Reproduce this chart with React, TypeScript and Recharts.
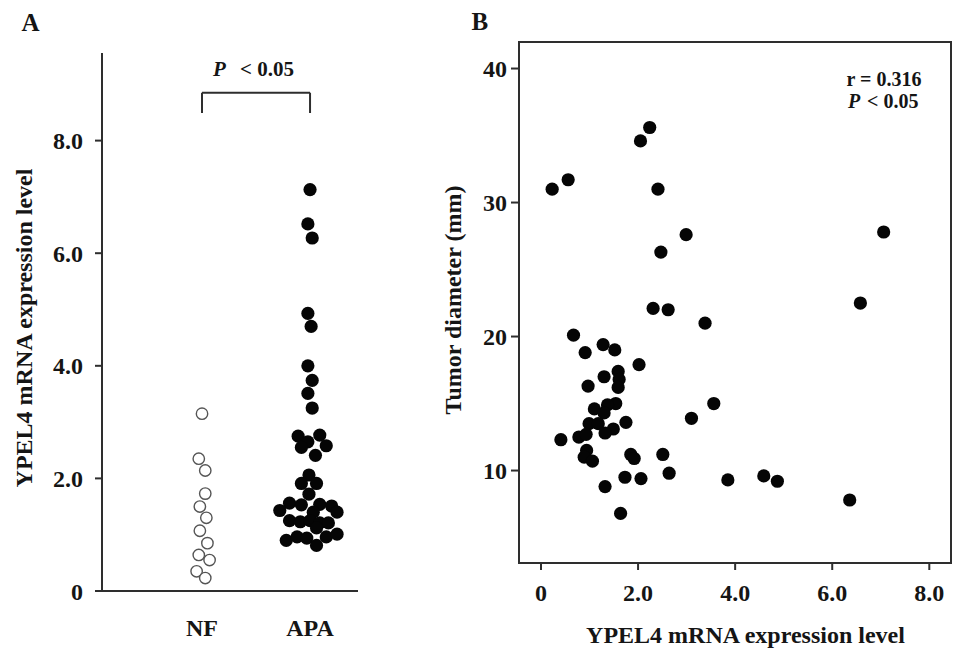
import React from 'react';
import { ScatterChart, Scatter, XAxis, YAxis, ReferenceLine, ReferenceArea } from 'recharts';

// Panel A: YPEL4 mRNA expression level by group (beeswarm positions)
const nfValues = [3.15, 2.35, 2.14, 1.73, 1.5, 1.3, 1.07, 0.85, 0.64, 0.55, 0.35, 0.23];
const nfSwarmX = [1.0, 0.97, 1.03, 1.03, 0.98, 1.04, 0.98, 1.05, 0.97, 1.07, 0.95, 1.03];
const apaValues = [
  7.13, 6.52, 6.27, 4.93, 4.7, 4.0, 3.74, 3.51, 3.25,
  2.75, 2.77, 2.65, 2.55, 2.58, 2.41,
  2.06, 1.91, 1.91, 1.72,
  1.56, 1.53, 1.54, 1.51, 1.43, 1.4, 1.4,
  1.25, 1.23, 1.25, 1.21, 1.21, 1.12,
  0.9, 0.96, 0.94, 0.96, 1.01, 0.81,
];
const apaSwarmX = [
  2.0, 1.98, 2.02, 1.98, 2.01, 1.98, 2.02, 1.98, 2.02,
  1.89, 2.09, 1.98, 1.92, 2.15, 2.05,
  1.99, 1.92, 2.06, 1.99,
  1.81, 1.92, 2.09, 2.2, 1.72, 2.03, 2.25,
  1.81, 1.91, 2.0, 2.09, 2.17, 2.06,
  1.78, 1.88, 1.97, 2.15, 2.25, 2.06,
];
const groupTicks = [1, 2];
const groupLabels = ['NF', 'APA'];
const aYTicks = [0, 2, 4, 6, 8];

// Panel B: expression vs tumor diameter
const expression = [
  0.23, 0.56, 2.05, 2.24, 2.41, 2.99, 2.47, 2.31, 2.62, 3.38, 7.06, 6.58,
  0.67, 1.28, 1.52, 0.91, 2.02, 1.59, 1.3, 1.61, 0.97, 1.59, 1.54, 1.37,
  1.1, 1.3, 1.75, 0.99, 1.18, 1.49, 1.32, 0.78, 0.93, 0.41, 0.94, 0.89,
  1.06, 1.85, 1.92, 1.73, 2.06, 1.32, 3.56, 3.1, 2.51, 2.64, 3.85, 4.59,
  4.87, 1.64, 6.36,
];
const diameter = [
  31.0, 31.7, 34.6, 35.6, 31.0, 27.6, 26.3, 22.1, 22.0, 21.0, 27.8, 22.5,
  20.1, 19.4, 19.0, 18.8, 17.9, 17.4, 17.0, 16.8, 16.3, 16.2, 15.0, 14.9,
  14.6, 14.3, 13.6, 13.5, 13.5, 13.1, 12.8, 12.5, 12.7, 12.3, 11.5, 11.0,
  10.7, 11.2, 10.9, 9.5, 9.4, 8.8, 15.0, 13.9, 11.2, 9.8, 9.3, 9.6,
  9.2, 6.8, 7.8,
];
const bXTicks = [0, 2, 4, 6, 8];
const bYTicks = [10, 20, 30, 40];

const nfData = nfValues.map((v, i) => ({ x: nfSwarmX[i], y: v }));
const apaData = apaValues.map((v, i) => ({ x: apaSwarmX[i], y: v }));
const bData = expression.map((v, i) => ({ x: v, y: diameter[i] }));

const FONT = '"Liberation Serif", "Times New Roman", serif';
const AXIS = '#2e2e2e';
const TEXT = '#151515';
const tickStyle = { fontFamily: FONT, fontWeight: 700, fontSize: 24, fill: TEXT };

const fmt = (v: number) => (v === 0 ? '0' : v.toFixed(1));

const FilledDot = (props: any) => {
  const { cx, cy } = props;
  if (cx == null || cy == null) return null;
  return <circle cx={cx} cy={cy} r={6.6} fill="#050505" />;
};
const OpenDot = (props: any) => {
  const { cx, cy } = props;
  if (cx == null || cy == null) return null;
  return <circle cx={cx} cy={cy} r={5.7} fill="#ffffff" stroke="#555555" strokeWidth={1.4} />;
};

export default function App() {
  return (
    <div style={{ position: 'absolute', left: 0, top: 0, width: 963, height: 654, background: '#ffffff', overflow: 'hidden' }}>
      <div style={{ position: 'absolute', left: 0, top: 0 }}>
        <ScatterChart width={380} height={654} margin={{ top: 53, right: 22, bottom: 0, left: 0 }}>
          <XAxis
            dataKey="x"
            type="number"
            domain={[0.0741, 2.444]}
            allowDataOverflow
            ticks={groupTicks}
            tickFormatter={(v: number) => groupLabels[groupTicks.indexOf(v)] ?? ''}
            tickLine={false}
            tickSize={0}
            tickMargin={28}
            height={63}
            axisLine={{ stroke: AXIS, strokeWidth: 2 }}
            tick={tickStyle}
            interval={0}
          />
          <YAxis
            dataKey="y"
            type="number"
            domain={[0, 9.556]}
            allowDataOverflow
            ticks={aYTicks}
            tickFormatter={fmt}
            width={102}
            tickSize={7}
            tickMargin={12}
            axisLine={{ stroke: AXIS, strokeWidth: 2 }}
            tickLine={{ stroke: AXIS, strokeWidth: 2 }}
            tick={tickStyle}
            interval={0}
          />
          <ReferenceLine segment={[{ x: 1, y: 8.85 }, { x: 2, y: 8.85 }]} stroke={AXIS} strokeWidth={2} ifOverflow="visible" />
          <ReferenceLine segment={[{ x: 1, y: 8.85 }, { x: 1, y: 8.49 }]} stroke={AXIS} strokeWidth={2} ifOverflow="visible" />
          <ReferenceLine segment={[{ x: 2, y: 8.85 }, { x: 2, y: 8.49 }]} stroke={AXIS} strokeWidth={2} ifOverflow="visible" />
          <Scatter data={nfData} shape={OpenDot} isAnimationActive={false} />
          <Scatter data={apaData} shape={FilledDot} isAnimationActive={false} />
        </ScatterChart>
      </div>
      <div style={{ position: 'absolute', left: 430, top: 0 }}>
        <ScatterChart width={533} height={654} margin={{ top: 42, right: 12, bottom: 0, left: 0 }}>
          <XAxis
            dataKey="x"
            type="number"
            domain={[-0.453, 8.447]}
            allowDataOverflow
            ticks={bXTicks}
            tickFormatter={fmt}
            height={91}
            tickSize={7}
            tickMargin={14}
            axisLine={{ stroke: AXIS, strokeWidth: 2 }}
            tickLine={{ stroke: AXIS, strokeWidth: 2 }}
            tick={tickStyle}
            interval={0}
          />
          <YAxis
            dataKey="y"
            type="number"
            domain={[3.1, 41.98]}
            allowDataOverflow
            ticks={bYTicks}
            width={89}
            tickSize={8}
            tickMargin={4}
            axisLine={{ stroke: AXIS, strokeWidth: 2 }}
            tickLine={{ stroke: AXIS, strokeWidth: 2 }}
            tick={tickStyle}
            interval={0}
          />
          <ReferenceArea x1={-0.453} x2={8.447} y1={3.1} y2={41.98} fill="none" fillOpacity={0} stroke={AXIS} strokeWidth={2} ifOverflow="visible" />
          <Scatter data={bData} shape={FilledDot} isAnimationActive={false} />
        </ScatterChart>
      </div>
      <svg width={963} height={654} style={{ position: 'absolute', left: 0, top: 0, pointerEvents: 'none' }}>
        <g fontFamily={FONT} fontWeight={700} fill={TEXT}>
          <text x={21.5} y={31} fontSize={25}>A</text>
          <text x={471.5} y={30} fontSize={25}>B</text>
          <text transform="translate(31.5,328) rotate(-90)" textAnchor="middle" fontSize={24}>YPEL4 mRNA expression level</text>
          <text x={213} y={76} fontSize={21} fontStyle="italic">P</text>
          <text x={240} y={76} fontSize={21}>&lt; 0.05</text>
          <text transform="translate(461,300) rotate(-90)" textAnchor="middle" fontSize={24}>Tumor diameter (mm)</text>
          <text x={745.5} y={643} textAnchor="middle" fontSize={24}>YPEL4 mRNA expression level</text>
          <text x={846.5} y={86} fontSize={20}>r = 0.316</text>
          <text x={848} y={108} fontSize={20} fontStyle="italic">P</text>
          <text x={867} y={108} fontSize={20}>&lt; 0.05</text>
        </g>
      </svg>
    </div>
  );
}
